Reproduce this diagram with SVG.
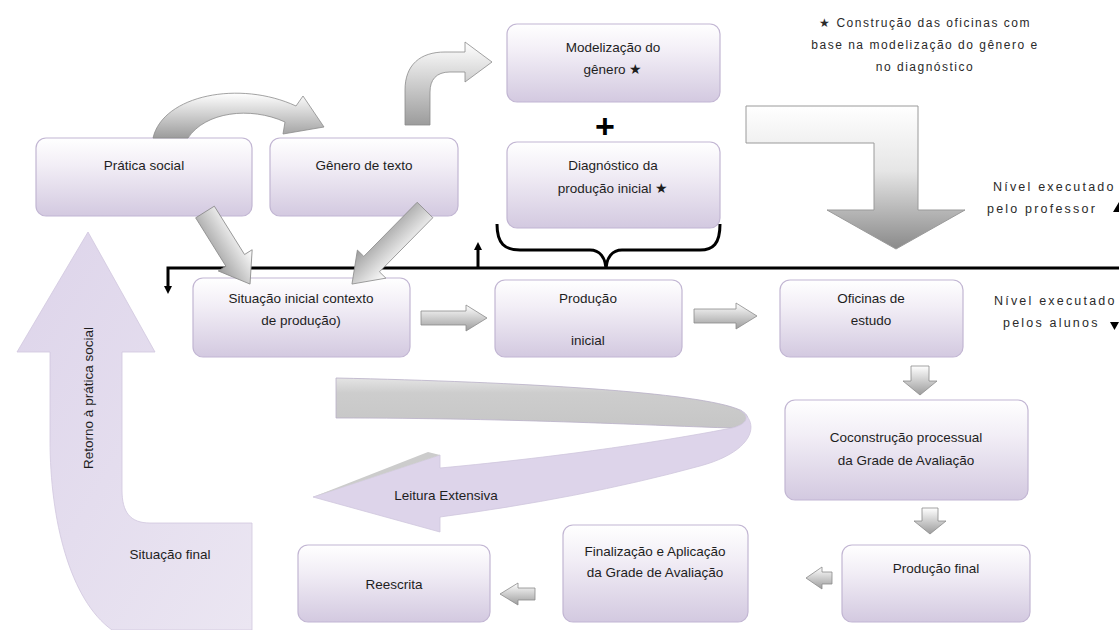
<svg xmlns="http://www.w3.org/2000/svg" width="1119" height="630" viewBox="0 0 1119 630">
  <defs>
    <linearGradient id="boxGrad" x1="0" y1="0" x2="0" y2="1">
      <stop offset="0" stop-color="#ffffff"/>
      <stop offset="0.35" stop-color="#f2eef6"/>
      <stop offset="1" stop-color="#d3c9e0"/>
    </linearGradient>
    <linearGradient id="grayGrad" x1="0" y1="0" x2="0" y2="1">
      <stop offset="0" stop-color="#ffffff"/>
      <stop offset="1" stop-color="#9c9c9c"/>
    </linearGradient>
    <linearGradient id="bigGrad" x1="0" y1="0" x2="0" y2="1">
      <stop offset="0" stop-color="#ffffff"/>
      <stop offset="0.45" stop-color="#e6e6e6"/>
      <stop offset="1" stop-color="#8a8a8a"/>
    </linearGradient>
    <linearGradient id="lavGrad" x1="0" y1="0" x2="1" y2="1">
      <stop offset="0" stop-color="#ddd4ea"/>
      <stop offset="1" stop-color="#ebe6f2"/>
    </linearGradient>
    <linearGradient id="grayBand" x1="0" y1="0" x2="0" y2="1">
      <stop offset="0" stop-color="#e4e4e4"/>
      <stop offset="0.3" stop-color="#cdcdcd"/>
      <stop offset="1" stop-color="#c6c6c6"/>
    </linearGradient>
    <marker id="blackHead" markerWidth="8" markerHeight="8" refX="4" refY="4" orient="auto" markerUnits="userSpaceOnUse" viewBox="0 0 8 8">
      <path d="M0,0 L8,4 L0,8 Z" fill="#000"/>
    </marker>
    <style>
      .box { fill: url(#boxGrad); stroke: #c2b6d3; stroke-width: 1.2; }
      .lbl { font-family: "Liberation Sans", Arial, sans-serif; font-size: 13.5px; fill: #1e1e1e; text-anchor: middle; }
      .note { font-family: "Liberation Sans", Arial, sans-serif; font-size: 12px; fill: #2a2a2a; letter-spacing: 1.5px; text-anchor: middle; }
      .side { font-family: "Liberation Sans", Arial, sans-serif; font-size: 12.5px; fill: #2a2a2a; letter-spacing: 2.2px; }
      .garrow { fill: url(#grayGrad); stroke: #8c8c8c; stroke-width: 0.8; }
      .line { fill: none; stroke: #000; stroke-width: 3; }
    </style>
  </defs>

  <rect width="1119" height="630" fill="#ffffff"/>

  <!-- Retorno à prática social / Situação final -->
  <g id="retorno">
    <path d="M88,232 L155,352 L122,352 L122,490 C122,512 130,523 150,523 L252,523 L252,630 L112,630 C70,600 50,520 50,440 L50,352 L17,352 Z" fill="url(#lavGrad)" stroke="#d0c6de" stroke-width="0.8"/>
    <text class="lbl" transform="translate(93,398) rotate(-90)">Retorno à prática social</text>
    <text class="lbl" x="170" y="559">Situação final</text>
  </g>

  <!-- Leitura Extensiva ribbon -->
  <g id="leitura">
    <path d="M336,378 C520,382 700,392 740,410 C752,416 750,424 732,428 C660,426 520,418 336,418 Z" fill="url(#grayBand)" stroke="#b9b0c8" stroke-width="0.8"/>
    <path d="M740,410 C762,424 752,452 700,466 C620,488 530,505 440,517 L440,532 L313,497 L440,455 L440,468 C570,456 670,440 732,428 C748,424 750,416 740,410 Z" fill="#ddd4ea" stroke="#cfc6dd" stroke-width="0.8"/>
    <path d="M313,497 L428,452 L440,455 Z" fill="#cccccc"/>
    <text class="lbl" x="446" y="500">Leitura Extensiva</text>
  </g>

  <g id="pratica">
    <rect class="box" x="36" y="138" width="216" height="78" rx="10"/>
    <text class="lbl" x="144" y="170">Prática social</text>
  </g>
  <g id="genero">
    <rect class="box" x="270" y="138" width="188" height="78" rx="10"/>
    <text class="lbl" x="364" y="170">Gênero de texto</text>
  </g>
  <g id="modelizacao">
    <rect class="box" x="507" y="24" width="213" height="78" rx="10"/>
    <text class="lbl" x="613" y="52">Modelização do</text>
    <text class="lbl" x="613" y="74">gênero ★</text>
  </g>
  <g id="plus">
    <text x="605" y="138" font-family="Liberation Sans, Arial, sans-serif" font-size="34" font-weight="bold" text-anchor="middle" fill="#000">+</text>
  </g>
  <g id="diagnostico">
    <rect class="box" x="507" y="142" width="213" height="86" rx="10"/>
    <text class="lbl" x="613" y="170">Diagnóstico da</text>
    <text class="lbl" x="613" y="193">produção inicial ★</text>
  </g>
  <g id="nota">
    <text class="note" x="925" y="27">★ Construção das oficinas com</text>
    <text class="note" x="925" y="49">base na modelização do gênero e</text>
    <text class="note" x="925" y="71">no diagnóstico</text>
  </g>
  <g id="nivel-professor">
    <text class="side" x="993" y="191">Nível executado</text>
    <text class="side" x="987" y="213">pelo professor</text>
    <path d="M1113,212 L1119,202 L1119,212 Z" fill="#000"/>
  </g>
  <g id="situacao-inicial">
    <rect class="box" x="193" y="278" width="217" height="79" rx="10"/>
    <text class="lbl" x="301" y="303">Situação inicial contexto</text>
    <text class="lbl" x="301" y="325">de produção)</text>
  </g>
  <g id="producao-inicial">
    <rect class="box" x="495" y="280" width="187" height="77" rx="10"/>
    <text class="lbl" x="588" y="303">Produção</text>
    <text class="lbl" x="588" y="345">inicial</text>
  </g>
  <g id="oficinas">
    <rect class="box" x="780" y="280" width="183" height="77" rx="10"/>
    <text class="lbl" x="871" y="303">Oficinas de</text>
    <text class="lbl" x="871" y="325">estudo</text>
  </g>
  <g id="nivel-alunos">
    <text class="side" x="994" y="305">Nível executado</text>
    <text class="side" x="1003" y="327">pelos alunos</text>
    <path d="M1110,322 L1119,322 L1114.5,330 Z" fill="#000"/>
  </g>
  <g id="coconstrucao">
    <rect class="box" x="785" y="400" width="243" height="100" rx="10"/>
    <text class="lbl" x="906" y="442">Coconstrução processual</text>
    <text class="lbl" x="906" y="465">da Grade de Avaliação</text>
  </g>
  <g id="producao-final">
    <rect class="box" x="842" y="545" width="188" height="77" rx="10"/>
    <text class="lbl" x="936" y="573">Produção final</text>
  </g>
  <g id="finalizacao">
    <rect class="box" x="563" y="525" width="185" height="97" rx="10"/>
    <text class="lbl" x="655" y="556">Finalização e Aplicação</text>
    <text class="lbl" x="655" y="577">da Grade de Avaliação</text>
  </g>
  <g id="reescrita">
    <rect class="box" x="298" y="545" width="192" height="77" rx="10"/>
    <text class="lbl" x="394" y="589">Reescrita</text>
  </g>

  <!-- connectors -->
  <g id="connectors">
    <path class="garrow" d="M153,138 C163,95 240,80 296,106 L303,96 L324,127 L283,134 L285,122 C250,106 205,112 188,138 Z"/>
    <path class="garrow" d="M405,125 L405,90 C405,65 420,52 445,52 L465,52 L465,42 L492,62 L465,82 L465,72 L450,72 C436,72 430,80 430,92 L430,125 Z"/>
    <path d="M746,106 L918,106 L918,210 L965,210 L896,249 L827,210 L874,210 L874,143 L746,143 Z" fill="url(#bigGrad)" stroke="#9a9a9a" stroke-width="1"/>
    <path class="line" d="M1119,268 L168,268 L168,290" marker-end="url(#blackHead)"/>
    <path class="line" d="M478,268 L478,246" marker-end="url(#blackHead)"/>
    <path class="line" d="M497,224 C497,244 505,250 520,250 L590,250 C600,250 605,258 606,268 C607,258 612,250 622,250 L700,250 C713,250 720,244 720,224"/>
    <path class="garrow" transform="translate(205,212) rotate(58)" d="M0,-11 L57,-11 L57,-20 L85,0 L57,20 L57,11 L0,11 Z"/>
    <path class="garrow" transform="translate(425,210) rotate(134.6)" d="M0,-11 L76,-11 L76,-20 L104,0 L76,20 L76,11 L0,11 Z"/>
    <path class="garrow" d="M421,311 L466,311 L466,305 L487,318 L466,331 L466,325 L421,325 Z"/>
    <path class="garrow" d="M694,309 L736,309 L736,303 L757,316 L736,329 L736,323 L694,323 Z"/>
    <path class="garrow" d="M911,366 L929,366 L929,381 L937,381 L920,395 L903,381 L911,381 Z"/>
    <path class="garrow" d="M922,508 L938,508 L938,521 L946,521 L930,534 L914,521 L922,521 Z"/>
    <path class="garrow" d="M832,572 L822,572 L822,567 L806,578 L822,589 L822,584 L832,584 Z"/>
    <path class="garrow" d="M535,588 L518,588 L518,583 L500,594 L518,605 L518,600 L535,600 Z"/>
  </g>
</svg>
